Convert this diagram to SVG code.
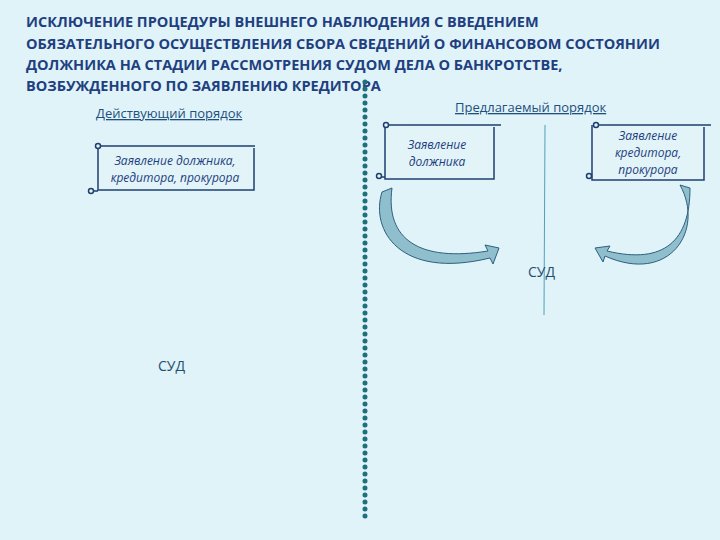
<svg xmlns="http://www.w3.org/2000/svg" width="720" height="540" viewBox="0 0 720 540">
<style>
.t{font-family:"Open Sans","DejaVu Sans",sans-serif;font-weight:bold;font-size:14.5px;fill:#1f3f80}
.h{font-family:"Open Sans","DejaVu Sans",sans-serif;font-size:13px;fill:#1f4f7f;text-decoration:underline}
.s{font-family:"Open Sans","DejaVu Sans",sans-serif;font-style:italic;font-size:12px;fill:#1f3f80;text-anchor:middle}
.c{font-family:"Open Sans","DejaVu Sans",sans-serif;font-size:14px;fill:#1f4f6f}
.box{fill:#e2f4f8;stroke:#1f3f70;stroke-width:1.5}
.arr{fill:#8fbfcc;stroke:#2f5f7f;stroke-width:1}
</style>
<rect width="720" height="540" fill="#dff3f8"/>
<g id="title">
<text class="t" x="26" y="27">ИСКЛЮЧЕНИЕ ПРОЦЕДУРЫ ВНЕШНЕГО НАБЛЮДЕНИЯ С ВВЕДЕНИЕМ</text>
<text class="t" x="26" y="49">ОБЯЗАТЕЛЬНОГО ОСУЩЕСТВЛЕНИЯ СБОРА СВЕДЕНИЙ О ФИНАНСОВОМ СОСТОЯНИИ</text>
<text class="t" x="26" y="70">ДОЛЖНИКА НА СТАДИИ РАССМОТРЕНИЯ СУДОМ ДЕЛА О БАНКРОТСТВЕ,</text>
<text class="t" x="26" y="91">ВОЗБУЖДЕННОГО ПО ЗАЯВЛЕНИЮ КРЕДИТОРА</text>
</g>
<g id="headings">
<text class="h" x="96" y="118">Действующий порядок</text>
<text class="h" x="455" y="112">Предлагаемый порядок</text>
</g>
<line x1="365" y1="82" x2="365" y2="522" stroke="#1f6f7f" stroke-width="5" stroke-linecap="round" stroke-dasharray="0 7"/>
<line x1="545" y1="125" x2="544" y2="315" stroke="#4f9fbf" stroke-width="1"/>
<g id="n1">
<path class="box" d="M98,146 H255 M98,146 V190 H254 V148 M90,191 H98"/>
<circle cx="98" cy="146" r="2.5" class="box"/><circle cx="91" cy="191" r="2.5" class="box"/>
<text class="s" x="175" y="165">Заявление должника,</text>
<text class="s" x="175" y="182">кредитора, прокурора</text>
</g>
<g id="n2">
<path class="box" d="M385,125 H501 M385,125 V179 H494 V127 M378,177 H385"/>
<circle cx="386" cy="125" r="2.5" class="box"/><circle cx="379" cy="176" r="2.5" class="box"/>
<text class="s" x="437" y="149">Заявление</text>
<text class="s" x="437" y="166">должника</text>
</g>
<g id="n3">
<path class="box" d="M595,125 H711 M592,125 V180 H704 V127 M587,176 H592"/>
<circle cx="596" cy="125" r="2.5" class="box"/><circle cx="589" cy="176" r="2.5" class="box"/>
<text class="s" x="648" y="140">Заявление</text>
<text class="s" x="648" y="157">кредитора,</text>
<text class="s" x="648" y="174">прокурора</text>
</g>
<g id="connectors">
<path class="arr" d="M382,192 C370,230 400,280 490,258 L493,264 L499,248 L485,245 L488,251 C420,262 385,240 392,188 Z"/>
<path class="arr" d="M680,185 C705,230 670,285 605,256 L603,262 L595,248 L610,246 L607,251 C665,265 690,240 690,188 Z"/>
</g>
<g id="sud">
<text class="c" x="528" y="277">СУД</text>
<text class="c" x="158" y="371">СУД</text>
</g>
</svg>
